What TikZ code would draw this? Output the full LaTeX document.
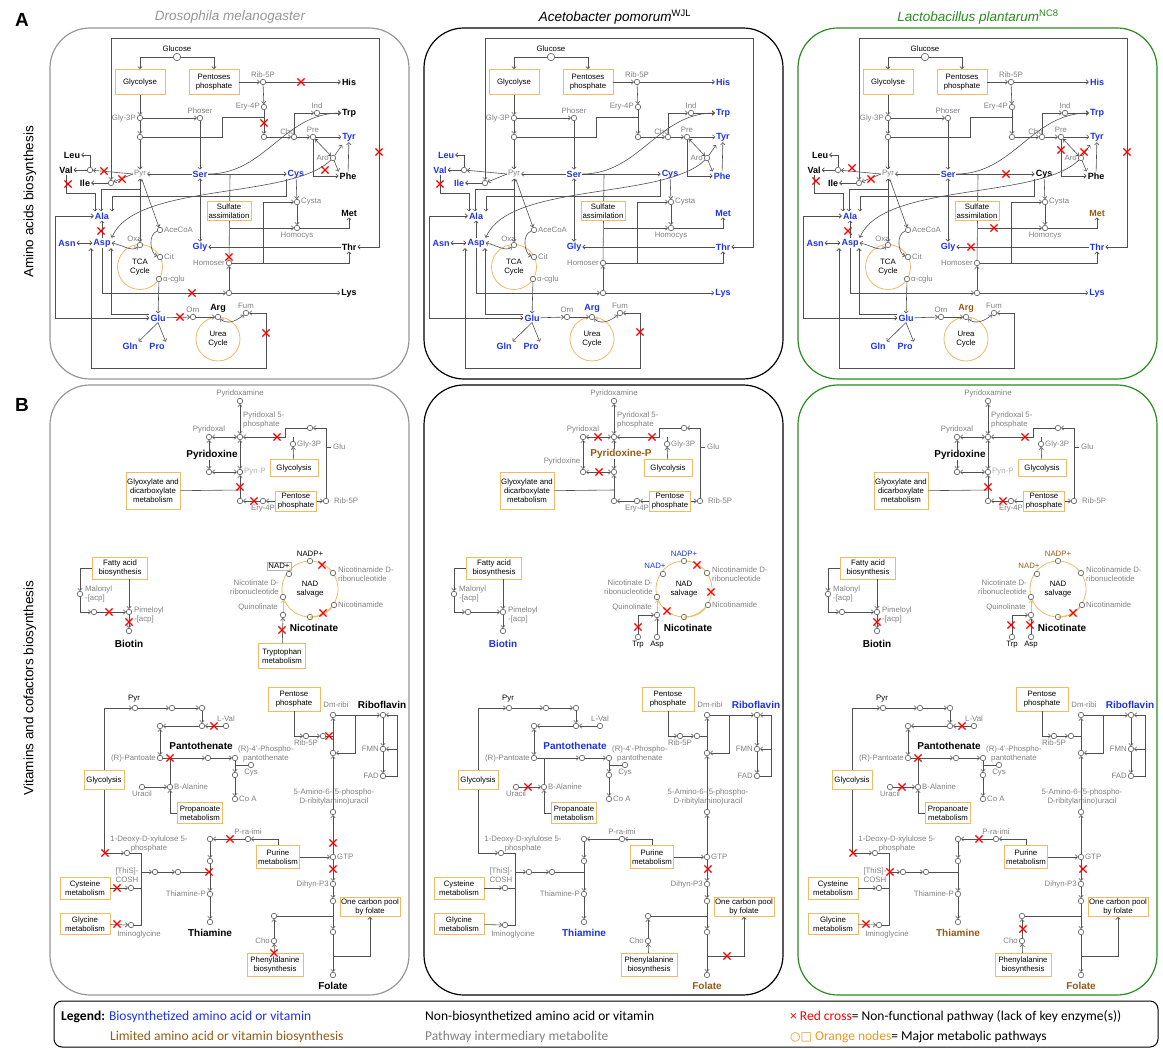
\documentclass[tikz,border=0pt]{standalone}
\usepackage{fontspec}
\setmainfont{Liberation Sans}
\newfontfamily\legfont{Carlito}
\newfontfamily\symfont{DejaVu Sans}
\usetikzlibrary{arrows.meta,positioning,shapes.misc,calc}
\definecolor{bio}{RGB}{30,50,230}
\definecolor{lim}{RGB}{150,90,20}
\definecolor{midgray}{RGB}{128,128,128}
\definecolor{pale}{RGB}{175,175,175}
\definecolor{boxor}{RGB}{242,186,100}
\definecolor{legor}{RGB}{238,150,30}
\definecolor{edge}{RGB}{80,80,80}
\definecolor{dgray}{RGB}{150,150,150}
\definecolor{leafgreen}{RGB}{40,140,30}
% label colours: Drosophila / Acetobacter / Lactobacillus
\newcommand\mkcol[4]{\colorlet{#1d}{#2}\colorlet{#1a}{#3}\colorlet{#1l}{#4}}
\mkcol{His}{black}{bio}{bio}
\mkcol{Trp}{black}{bio}{bio}
\mkcol{Tyr}{bio}{bio}{bio}
\mkcol{Phe}{black}{bio}{black}
\mkcol{Leu}{black}{bio}{black}
\mkcol{Val}{black}{bio}{black}
\mkcol{Ile}{black}{bio}{black}
\mkcol{Ser}{bio}{bio}{bio}
\mkcol{Cys}{bio}{bio}{black}
\mkcol{Ala}{bio}{bio}{bio}
\mkcol{Asp}{bio}{bio}{bio}
\mkcol{Asn}{bio}{bio}{bio}
\mkcol{Gly}{bio}{bio}{bio}
\mkcol{Met}{black}{bio}{lim}
\mkcol{Thr}{black}{bio}{bio}
\mkcol{Lys}{black}{bio}{bio}
\mkcol{Glu}{bio}{bio}{bio}
\mkcol{Gln}{bio}{bio}{bio}
\mkcol{Pro}{bio}{bio}{bio}
\mkcol{Arg}{black}{bio}{lim}
\mkcol{Bio}{black}{bio}{black}
\mkcol{NADP}{black}{bio}{lim}
\mkcol{Pan}{black}{bio}{black}
\mkcol{Rib}{black}{bio}{bio}
\mkcol{Thi}{black}{bio}{lim}
\mkcol{Fol}{black}{lim}{lim}
\tikzset{%
   ln/.style={draw=edge, line width=0.6pt},
   orl/.style={draw=boxor, line width=0.8pt},
   met/.style={
      circle,
      draw=edge,
      fill=white,
      line width=0.55pt,
      minimum size=5.5pt,
      inner sep=0pt
   },
   itm/.style={text=midgray, font=\fontsize{7.8}{8.6}\selectfont, inner sep=1pt, align=center},
   prd/.style={font=\bfseries\fontsize{9}{10}\selectfont, inner sep=1pt},
   prdb/.style={font=\bfseries\fontsize{10}{11}\selectfont, inner sep=1pt},
   pbox/.style={
      draw=boxor,
      line width=0.8pt,
      fill=white,
      font=\fontsize{7.8}{9}\selectfont,
      align=center,
      inner sep=1pt
   },
   cyc/.style={
      circle,
      draw=boxor,
      line width=0.8pt,
      minimum size=45pt,
      inner sep=0pt,
      align=center,
      font=\fontsize{7.8}{9}\selectfont
   },
   redx/.style={cross out, draw=red, line width=1.1pt, minimum size=6pt, inner sep=0pt},
   frame/.style={rounded corners=40pt, line width=1.2pt},
   ttl/.style={font=\itshape\fontsize{13.5}{15}\selectfont},
   side/.style={rotate=90, font=\fontsize{13.5}{15}\selectfont},
   leg/.style={font=\legfont\fontsize{13.5}{15}\selectfont, anchor=west, inner sep=0pt},
}
% amino acid panel, #1 = organism letter
\newcommand\aminopanel[1]{%
  \node[cyc] (tca) at (140,267) {TCA\\Cycle};
  \node[cyc, minimum size=44pt] (urea) at (218,339) {Urea\\Cycle};
  \node[pbox, minimum width=50pt, minimum height=25pt] (glyc) at (140,82) {Glycolyse};
  \node[pbox, minimum width=50pt, minimum height=25pt] (ppp) at (214,82) {Pentoses\\phosphate};
  \node[met, minimum size=7.5pt] (glc) at (177,57) {};
  \node[itm, text=black, above=0pt of glc] (glcl) {Glucose};
  \node[met] (r5p) at (263,82) {};
  \node[itm, above=0pt of r5p] (r5pl) {Rib-5P};
  \node[met] (e4p) at (264,107) {};
  \node[itm, left=0pt of e4p] (e4pl) {Ery-4P};
  \node[met] (e4pb) at (264,137) {};
  \coordinate (e4pm) at (264,117);
  \node[met] (g3p) at (140,118) {};
  \node[itm, left=0pt of g3p] (g3pl) {Gly-3P};
  \node[met] (phoser) at (200,118) {};
  \node[itm, above=0pt of phoser] (phoserl) {Phoser};
  \node[met] (g3pb) at (140,137) {};
  \node[itm] (pyr) at (140,174) {Pyr};
  \coordinate (pyrd) at (140,189);
  \node[met] (cho) at (294,137) {};
  \node[itm, above left=-1pt and -4pt of cho] (chol) {Cho};
  \node[met] (ind) at (317,113) {};
  \node[itm, above=0pt of ind] (indl) {Ind};
  \node[met] (pre) at (313,137) {};
  \node[itm, above=0pt of pre] (prel) {Pre};
  \node[met] (aro) at (333,158) {};
  \node[itm, left=0pt of aro] (arol) {Aro};
  \node[met] (valc) at (90,170) {};
  \node[met] (ilec) at (111,183) {};
  \node[met] (cysta) at (297,202) {};
  \node[itm, right=0pt of cysta] (cystal) {Cysta};
  \node[met] (homocys) at (297,228) {};
  \node[itm, below=0pt of homocys] (homocysl) {Homocys};
  \node[met] (homoser) at (229,263) {};
  \node[itm, left=0pt of homoser] (homoserl) {Homoser};
  \node[met] (lysc) at (229,293) {};
  \coordinate (sulft) at (230,174);
  \coordinate (sulfh) at (230,228);
  \node[met] (oxa) at (140,245) {};
  \node[itm, above left=0pt and -5pt of oxa] (oxal) {Oxa};
  \node[met] (acecoa) at (160,230) {};
  \node[itm, right=0pt of acecoa] (acecoal) {AceCoA};
  \node[met] (cit) at (160,257) {};
  \node[itm, right=0pt of cit] (citl) {Cit};
  \node[met] (acglu) at (159,279) {};
  \node[itm, right=0pt of acglu] (acglul) {α-cglu};
  \node[met] (orn) at (193,317) {};
  \node[itm, above=0pt of orn] (ornl) {Orn};
  \node[met] (argc) at (218,317) {};
  \node[met] (fum) at (246,313) {};
  \node[itm, above=0pt of fum] (fuml) {Fum};
  % products
  \node[prd, text=His#1] (his) at (349,82) {His};
  \node[prd, text=Trp#1] (trp) at (349,113) {Trp};
  \node[prd, text=Tyr#1] (tyr) at (349,137) {Tyr};
  \node[prd, text=Phe#1] (phe) at (348,176) {Phe};
  \node[prd, text=Leu#1] (leu) at (72,155) {Leu};
  \node[prd, text=Val#1] (val) at (66,170) {Val};
  \node[prd, text=Ile#1] (ile) at (85,183) {Ile};
  \node[prd, text=Ser#1] (ser) at (200,174) {Ser};
  \node[prd, text=Cys#1] (cys) at (296,174) {Cys};
  \node[prd, text=Ala#1] (ala) at (102,216) {Ala};
  \node[prd, text=Asp#1] (asp) at (102,243) {Asp};
  \node[prd, text=Asn#1] (asn) at (67,243) {Asn};
  \node[prd, text=Gly#1] (gly) at (200,247) {Gly};
  \node[prd, text=Met#1] (mets) at (349,213) {Met};
  \node[prd, text=Thr#1] (thr) at (349,247) {Thr};
  \node[prd, text=Lys#1] (lys) at (349,293) {Lys};
  \node[prd, text=Glu#1] (glu) at (158,318) {Glu};
  \node[prd, text=Gln#1] (gln) at (130,346) {Gln};
  \node[prd, text=Pro#1] (pro) at (157,346) {Pro};
  \node[prd, text=Arg#1, above=0pt of argc] (arg) {Arg};
  % connectors
  \draw[ln,->] (glc) -| (glyc);
  \draw[ln,->] (glc) -| (ppp);
  \draw[ln,->] (glyc) -- (g3p);
  \draw[ln,->] (ppp) -- (r5p);
  \draw[ln,->] (r5p) -- (his);
  \draw[ln,->] (r5p) -- (e4p);
  \draw[ln,->] (e4p) -- (e4pb);
  \draw[ln,->] (g3p) -- (phoser);
  \draw[ln,->] (g3p) -- (g3pb);
  \draw[ln] (g3pb) -- (222,137) |- (e4pm);
  \draw[ln,->] (g3pb) -- (pyr);
  \draw[ln,->] (phoser) -- (ser);
  \draw[ln,->] (ser) -- (pyr);
  \draw[ln,->] (e4pb) -- (cho);
  \draw[ln,->] (cho) -- (pre);
  \draw[ln,->] (cho) |- (ind);
  \draw[ln,->] (ind) -- (trp);
  \draw[ln,->] (pre) -- (tyr);
  \draw[ln,->] (pre) |- (phe);
  \draw[ln,<->] (pre) -- (aro);
  \draw[ln,->] (aro) -- (342,145);
  \draw[ln,->] (aro) -- (phe.north west);
  \draw[ln,->] (phe) -- (tyr);
  \draw[ln,->] (ser.east) to[out=0,in=180] (trp.west);
  \draw[ln,->] (ser) -- (cys);
  \draw[ln,->] (pyr.west) -- (valc);
  \draw[ln,->] (pyr.west) -- (ilec);
  \draw[ln,->] (valc) -- (val);
  \draw[ln,->] (ilec) -- (ile);
  \draw[ln,->] (valc) |- (leu);
  \draw[ln,<->] (ilec) -- (111,38) -| (379,247) -- (thr);
  \draw[ln,->] (val) |- (95,193) -- (95,0 |- ala.north);
  \draw[ln,->] (pyrd) -| (101,0 |- ala.north);
  \draw[ln,->] (286,0 |- cys.south) |- (112,196) -- (112,0 |- ala.north);
  \draw[ln,<->] (pyr) -- (oxa);
  \draw[ln,->] (pyr) -- (acecoa);
  \draw[ln,->] (acecoa) to[out=200,in=160] (cit);
  \draw[ln,->] (acglu) -- (glu);
  \draw[ln,<->] (asp.east) to[out=-10,in=220] (oxa);
  \draw[ln,<->] (asn) -- (asp);
  \draw[ln,->] (asp) -- (ala);
  \draw[ln,<->] (ala.west) -- (55,0 |- ala.west) |- (glu.west);
  \draw[ln,<-] (111,0 |- asp.south) |- ([yshift=4pt]glu.west);
  \draw[ln,->] (asp.south) |- (lysc);
  \draw[ln,->] (lysc) -- (lys);
  \draw[ln,->] (lysc) -- (homoser);
  \draw[ln,->] (homoser) -| (thr.south);
  \draw[ln,->] (homoser.east) -| (263,202) -- (cysta);
  \draw[ln,->] (cys) -- (cysta);
  \draw[ln,->] (cysta) -- (homocys);
  \draw[ln,->] (homocys) -| (mets.south);
  \draw[ln] (sulft) -- (homoser);
  \draw[ln,->] (sulfh) -- (homocys);
  \draw[ln,->] (thr) -- (gly);
  \draw[ln,<->] (ser) -- (gly);
  \draw[ln,->] (glu.south) -- (gln.north east);
  \draw[ln,->] (glu.south) -- (pro.north east);
  \draw[ln,->] (glu) -- (orn);
  \draw[ln,->] (orn) -- (argc);
  \draw[ln,<->] (argc) to[out=-40,in=220] (fum);
  \draw[ln,<->] (fum.east) -- (266,313) |- (91,368) -- (91,0 |- asp.south);
  \draw[ln,->] (aro) .. controls (290,200) and (135,182) .. (asp.north east);
  \node[pbox, minimum width=44pt, minimum height=19pt] (sulf) at (229,211) {Sulfate\\assimilation};
}
% vitamin panel, #1 = organism letter
\newcommand\vitpanel[1]{%
  % pyridoxine
  \node[met] (pyam) at (240,401) {};
  \node[itm, above=0pt of pyam] (pyaml) {Pyridoxamine};
  \node[met] (p5p) at (240,437) {};
  \node[itm, anchor=south west, align=left] (p5pl) at (242,429) {Pyridoxal 5-\\phosphate};
  \node[met] (pyal) at (209,437) {};
  \node[itm, above=0pt of pyal] (pyall) {Pyridoxal};
  \node[met] (pynl) at (209,472) {};
  \node[met] (pynp) at (240,472) {};
  \node[met] (pyh) at (240,501) {};
  \coordinate (hubv) at (240,490);
  \node[met] (e4p) at (263,501) {};
  \node[itm, below=0pt of e4p] (e4pl) {Ery-4P};
  \node[pbox, minimum width=41pt, minimum height=20pt] (ppp) at (296,501) {Pentose\\phosphate};
  \node[met] (r5p) at (326,501) {};
  \node[itm, right=4pt of r5p] (r5pl) {Rib-5P};
  \node[pbox, minimum width=54pt, minimum height=37pt] (glyox) at (153,491) {Glyoxylate and\\dicarboxylate\\metabolism};
  \node[pbox, minimum width=48pt, minimum height=17pt] (glyc) at (294,468) {Glycolysis};
  \node[met] (g3p) at (293,444) {};
  \node[itm, right=0pt of g3p] (g3pl) {Gly-3P};
  \node[met] (glum) at (310,428) {};
  \coordinate (glut) at (326,447);
  \node[itm, right=6pt of glut] (glul) {Glu};
  \draw[ln,<->] (pyam) -- (p5p);
  \draw[ln,<->] (pyal) -- (p5p);
  \draw[ln,<->] (pyal) -- (pynl);
  \draw[ln,<->] (pynl) -- (pynp);
  \draw[ln,<->] (p5p) -- (pynp);
  \draw[ln,->] (pyh) -- (pynp);
  \draw[ln] (glyox) -- (hubv);
  \draw[ln,->] (e4p) -- (pyh);
  \draw[ln,->] (ppp) -- (e4p);
  \draw[ln,->] (ppp) -- (r5p);
  \draw[ln,->] (r5p) |- (glum);
  \draw[ln] (glut) -- ++(5,0);
  \draw[ln,->] (glum) -| (285,437) -- (p5p);
  \draw[ln,->] (glyc) -- (g3p);
  \draw[ln] (g3p) -- (g3p |- p5p);
  % biotin
  \node[pbox, minimum width=55pt, minimum height=22pt] (fas) at (120,568) {Fatty acid\\biosynthesis};
  \node[met] (malo) at (80,594) {};
  \node[itm, right=1pt of malo, align=left] (malol) {Malonyl\\-[acp]};
  \node[met] (bm) at (94,612) {};
  \node[met] (pim) at (129,612) {};
  \node[itm, right=1pt of pim, align=left, yshift=-3pt] (piml) {Pimeloyl\\-[acp]};
  \node[met] (bt) at (129,631) {};
  \node[prdb, text=Bio#1] (biotin) at (129,644) {Biotin};
  \draw[ln,->] (fas) -| (malo);
  \draw[ln,->] (malo) |- (bm);
  \draw[ln,->] (bm) -- (pim);
  \draw[ln,->] (129,0 |- fas.south) -- (pim);
  \draw[ln,->] (pim) -- (bt);
  % NAD salvage
  \coordinate (nadctr) at (310,589);
  \draw[orl] (nadctr) circle[radius=28];
  \node[itm, text=black] (nadsl) at (nadctr) {NAD\\salvage};
  \node[met] (nadp) at (310,561) {};
  \node[itm, text=NADP#1, above=0pt of nadp] (nadpl) {NADP+};
  \node[met] (nad) at (289,574) {};
  \node[met] (nmn) at (333,573) {};
  \node[itm, anchor=west, align=left] (nmnl) at (337,574) {Nicotinamide D-\\ribonucleotide};
  \node[met] (nam) at (334,605) {};
  \node[itm, right=0pt of nam] (naml) {Nicotinamide};
  \node[met] (nic) at (310,617) {};
  \node[prdb] (nicl) at (314,628) {Nicotinate};
  \node[met] (namn) at (283,597) {};
  \node[itm, anchor=east, align=right] (namnl) at (280,587) {Nicotinate D-\\ribonucleotide};
  \node[met] (quin) at (283,615) {};
  \node[itm, anchor=east] (quinl) at (279,607) {Quinolinate};
  \draw[orl,->] (quin) -- (namn);
  \draw[orl,->] (nam) to[bend left=25] (nic);
  % pantothenate
  \node[itm, text=black] (pyrl) at (134,699) {Pyr};
  \node[met] (pyrc) at (135,708) {};
  \node[met] (pa1) at (172,708) {};
  \node[met] (pa2) at (202,708) {};
  \node[met] (pa3) at (202,726) {};
  \node[met] (lval) at (226,726) {};
  \node[itm, above=0pt of lval] (lvall) {L-Val};
  \node[met] (pa4) at (160,726) {};
  \node[met] (pant) at (160,758) {};
  \node[itm, left=0pt of pant] (pantl) {(R)-Pantoate};
  \node[prdb, text=Pan#1] (panto) at (201,746) {Pantothenate};
  \node[met] (pa5) at (208,758) {};
  \node[met] (ppan) at (235,758) {};
  \node[itm, anchor=west] (ppanl) at (237,754) {(R)-4'-Phospho-\\pantothenate};
  \node[met] (cysb) at (251,765) {};
  \node[itm, below=0pt of cysb] (cysbl) {Cys};
  \node[met] (pa6) at (235,775) {};
  \node[met] (coa) at (235,799) {};
  \node[itm, right=0pt of coa] (coal) {Co A};
  \node[met] (bala) at (170,787) {};
  \node[itm, right=0pt of bala] (balal) {B-Alanine};
  \node[met] (ura) at (142,787) {};
  \node[itm, below=0pt of ura] (ural) {Uracil};
  \node[pbox, minimum width=45pt, minimum height=21pt] (prop) at (200,813) {Propanoate\\metabolism};
  \node[pbox, minimum width=40pt, minimum height=19pt] (glyc2) at (104,780) {Glycolysis};
  \draw[ln,->] (glyc2) |- (pyrc);
  \draw[ln,->] (pyrc) -- (pa1);
  \draw[ln,->] (pa1) -- (pa2);
  \draw[ln,->] (pa2) -- (pa3);
  \draw[ln,->] (lval) -- (pa3);
  \draw[ln,->] (pa3) -- (pa4);
  \draw[ln,<->] (pa4) -- (pant);
  \draw[ln,->] (pant) -- (pa5);
  \draw[ln,->] (pa5) -- (ppan);
  \draw[ln,->] (ppan) -- (pa6);
  \draw[ln] (cysb) -- (ppan |- cysb);
  \draw[ln,->] (pa6) -- (coa);
  \draw[ln,->] (ura) -- (bala);
  \draw[ln] (bala) -- (bala |- pant);
  \draw[ln,->] (prop) -| (bala);
  % thiamine
  \node[met] (dxp) at (127,853) {};
  \node[itm] (dxpl) at (149,844) {1-Deoxy-D-xylulose 5-\\phosphate};
  \coordinate (tha) at (141,872);
  \coordinate (thb) at (141,925);
  \node[pbox, minimum width=50pt, minimum height=22pt] (cysm) at (85,888) {Cysteine\\metabolism};
  \node[met] (cysmc) at (131,888) {};
  \node[pbox, minimum width=50pt, minimum height=21pt] (glym) at (85,924) {Glycine\\metabolism};
  \node[met] (imino) at (131,925) {};
  \node[itm] (iminol) at (139,934) {Iminoglycine};
  \node[itm] (thisl) at (127,875) {[ThiS]-\\COSH};
  \node[met] (th1) at (155,872) {};
  \node[met] (th2) at (178,872) {};
  \node[met] (tv1) at (210,839) {};
  \node[met] (pra) at (248,839) {};
  \node[itm, above=0pt of pra] (pral) {P-ra-imi};
  \node[pbox, minimum width=43pt, minimum height=23pt] (pur) at (278,857) {Purine\\metabolism};
  \node[met] (tv2) at (210,861) {};
  \node[met] (thp) at (210,894) {};
  \node[itm, left=0pt of thp] (thpl) {Thiamine-P};
  \node[met] (tv3) at (210,922) {};
  \node[prdb, text=Thi#1] (thia) at (210,933) {Thiamine};
  \draw[ln,->] (glyc2) |- (dxp);
  \draw[ln] (dxp) -| (thb) -- (imino);
  \draw[ln,->] (cysm) -- (cysmc);
  \draw[ln] (cysmc) -- (cysmc -| thb);
  \draw[ln,->] (glym) -- (imino);
  \draw[ln,->] (tha) -- (th1);
  \draw[ln,->] (th1) -- (th2);
  \draw[ln] (th2) -- (th2 -| tv1);
  \draw[ln,->] (pur) |- (pra);
  \draw[ln,->] (pra) -- (tv1);
  \draw[ln,->] (tv1) -- (tv2);
  \draw[ln,->] (tv2) -- (thp);
  \draw[ln,->] (thp) -- (tv3);
  % riboflavin
  \node[met] (gtp) at (333,857) {};
  \node[itm, right=0pt of gtp] (gtpl) {GTP};
  \node[met] (am) at (333,812) {};
  \node[itm] (aml) at (334,797) {5-Amino-6-(5-phospho-\\D-ribitylamino)uracil};
  \node[met] (dihy) at (333,884) {};
  \node[itm, left=0pt of dihy] (dihyl) {Dihyn-P3};
  \node[met] (fo1) at (333,901) {};
  \node[met] (rb1) at (333,753) {};
  \node[met] (dmr) at (333,715) {};
  \node[itm] (dmrl) at (336,705) {Dm-ribi};
  \node[pbox, minimum width=52pt, minimum height=24pt] (ppp2) at (294,699) {Pentose\\phosphate};
  \node[met] (rc1) at (306,736) {};
  \node[met] (rc2) at (323,736) {};
  \node[itm, below=0pt of rc1] (rc1l) {Rib-5P};
  \node[met] (ribc) at (383,715) {};
  \node[prdb, text=Rib#1] (ribo) at (382,705) {Riboflavin};
  \node[met] (fmn) at (383,749) {};
  \node[itm, left=0pt of fmn] (fmnl) {FMN};
  \node[met] (fad) at (383,776) {};
  \node[itm, left=0pt of fad] (fadl) {FAD};
  \coordinate (rbj) at (355,715);
  \coordinate (rbr) at (397,715);
  \draw[ln,->] (pur) -- (gtp);
  \draw[ln,->] (gtp) -- (am);
  \draw[ln,->] (gtp) -- (dihy);
  \draw[ln,->] (dihy) -- (fo1);
  \draw[ln,->] (am) -- (rb1);
  \draw[ln,->] (rb1) -- (dmr);
  \draw[ln,->] (ppp2) |- (rc1);
  \draw[ln,->] (rc1) -- (rc2);
  \draw[ln] (rc2) -- (rc2 -| rb1);
  \draw[ln,->] (dmr) -- (ribc);
  \draw[ln,->] (rbj) |- (rb1);
  \draw[ln,->] (ribc) -- (fmn);
  \draw[ln,->] (fmn) -- (fad);
  \draw[ln,->] (fad) -| (rbr) -- (ribc);
  \draw[ln,->] (fmn -| rbr) -- (fmn);
  % folate
  \node[met] (fo2) at (333,932) {};
  \node[met] (fo3) at (333,975) {};
  \node[prdb, text=Fol#1] (fola) at (333,986) {Folate};
  \node[pbox, minimum width=60pt, minimum height=19pt] (ocp) at (370,907) {One carbon pool\\by folate};
  \node[pbox, minimum width=56pt, minimum height=23pt] (pheb) at (275,965) {Phenylalanine\\biosynthesis};
  \node[met] (cho) at (274,941) {};
  \node[itm, left=0pt of cho] (chol) {Cho};
  \node[met] (chu) at (274,916) {};
  \coordinate (foj) at (333,956);
  \draw[ln,->] (fo1) -- (fo2);
  \draw[ln,->] (fo2) -- (fo3);
  \draw[ln,->] (foj) -| (ocp);
  \draw[ln,->] (pheb) -- (cho);
  \draw[ln,->] (cho) -- (chu);
  \draw[ln] (chu) -- (chu -| fo1);
}
\newcommand\trpasp{%
  \node[met] (trp) at (264,637) {};
  \node[itm, text=black, below=0pt of trp] (trpl) {Trp};
  \node[met] (aspb) at (283,637) {};
  \node[itm, text=black, below=0pt of aspb] (aspbl) {Asp};
  \draw[ln,->] (trp) |- (quin);
  \draw[ln,->] (aspb) -- (quin);
}

\begin{document}
\begin{tikzpicture}[x=1pt, y=-1pt, >={Straight Barb[length=2.2pt,width=4.4pt]}]
  \useasboundingbox (0,0) rectangle (1163,1048);
  % frames and titles
  \draw[frame, draw=dgray] (50,28) rectangle (409,379);
  \draw[frame, draw=black] (424,28) rectangle (783,379);
  \draw[frame, draw=leafgreen] (798,28) rectangle (1157,379);
  \draw[frame, draw=dgray] (50,385) rectangle (409,995);
  \draw[frame, draw=black] (424,385) rectangle (783,995);
  \draw[frame, draw=leafgreen] (798,385) rectangle (1157,995);
  \node[font=\bfseries\fontsize{19}{20}\selectfont] (pa) at (22,20) {A};
  \node[font=\bfseries\fontsize{19}{20}\selectfont] (pb) at (22,405) {B};
  \node[ttl, text=dgray] (tdro) at (230,17) {Drosophila melanogaster};
  \node[ttl] (tace) at (615,17) {Acetobacter pomorum\textsuperscript{\upshape WJL}};
  \node[ttl, text=leafgreen] (tlac) at (978,17) {Lactobacillus plantarum\textsuperscript{\upshape NC8}};
  \node[side] (sidea) at (30,202) {Amino acids biosynthesis};
  \node[side] (sideb) at (30,688) {Vitamins and cofactors biosynthesis};
  % A: amino acids
  \begin{scope}[name prefix=ad-]
    \aminopanel{d}
    \foreach \x/\y [count=\k] in {301/82,264/123,379/152,325/170,104/171,122/179,68/184,101/231,229/257,192/293,180/317,266/333}
      \node[redx] (x\k) at (\x,\y) {};
  \end{scope}
  \begin{scope}[xshift=374pt, name prefix=aa-]
    \aminopanel{a}
    \foreach \x/\y [count=\k] in {66/184,266/332}
      \node[redx] (x\k) at (\x,\y) {};
  \end{scope}
  \begin{scope}[xshift=748pt, name prefix=al-]
    \aminopanel{l}
    \foreach \x/\y [count=\k] in {104/168,123/179,68/181,100/231,258/174,313/150,336/152,379/152,246/228,223/247}
      \node[redx] (x\k) at (\x,\y) {};
  \end{scope}
  % B: vitamins
  \begin{scope}[name prefix=bd-]
    \vitpanel{d}
    \node[prdb, fill=white, inner sep=0.5pt] (pyrx) at (212,455) {Pyridoxine};
    \node[itm, text=pale, right=0pt of pynp] (pynpl) {Pyn-P};
    \node[itm, text=black, draw=gray!60, inner sep=1.2pt] (nadl) at (279,566) {NAD+};
    \node[pbox, minimum width=47pt, minimum height=25pt] (trpm) at (282,656) {Tryptophan\\metabolism};
    \draw[ln,->] (trpm) -- (quin);
    \foreach \x/\y [count=\k] in {277/437,240/487,254/501,109/612,129/622,322/565,323/613,282/630,214/726,170/758,105/853,117/888,117/924,209/872,230/839,333/843,333/869,329/736,274/953}
      \node[redx] (x\k) at (\x,\y) {};
  \end{scope}
  \begin{scope}[xshift=374pt, name prefix=ba-]
    \vitpanel{a}
    \node[prdb, text=lim, fill=white, inner sep=0.5pt] (pyrx) at (247,454) {Pyridoxine-P};
    \node[itm] (pynll) at (188,461) {Pyridoxine};
    \node[itm, text=bio] (nadl) at (281,566) {NAD+};
    \trpasp
    \foreach \x/\y [count=\k] in {224/437,278/437,225/472,323/565,337/592,293/611,264/627,154/787,334/869,353/956}
      \node[redx] (x\k) at (\x,\y) {};
  \end{scope}
  \begin{scope}[xshift=748pt, name prefix=bl-]
    \vitpanel{l}
    \node[prdb, fill=white, inner sep=0.5pt] (pyrx) at (212,455) {Pyridoxine};
    \node[itm, text=pale, right=0pt of pynp] (pynpl) {Pyn-P};
    \node[itm, text=lim] (nadl) at (281,566) {NAD+};
    \trpasp
    \foreach \x/\y [count=\k] in {277/437,240/487,255/501,129/622,325/613,263/625,282/625,214/726,170/758,154/787,105/853,142/872,118/924,231/839,335/869,275/929}
      \node[redx] (x\k) at (\x,\y) {};
  \end{scope}
  % legend
  \node[draw=black, line width=1pt, rounded corners=8pt, minimum width=1104pt, minimum height=46pt, inner sep=0pt] (legbox) at (606,1024) {};
  \node[leg] (lg1) at (61,1017) {\textbf{Legend:} \textcolor{bio}{Biosynthetized amino acid or vitamin}};
  \node[leg, text=lim] (lg2) at (110,1037) {Limited amino acid or vitamin biosynthesis};
  \node[leg] (lg3) at (425,1017) {Non-biosynthetized amino acid or vitamin};
  \node[leg, text=midgray] (lg4) at (425,1037) {Pathway intermediary metabolite};
  \node[leg] (lg5) at (790,1017) {\textcolor{red}{× Red cross}= Non-functional pathway (lack of key enzyme(s))};
  \node[leg] (lg6) at (790,1037) {\textcolor{legor}{{\symfont\fontsize{12}{13}\selectfont ○□} Orange nodes}= Major metabolic pathways};
\end{tikzpicture}
\end{document}
